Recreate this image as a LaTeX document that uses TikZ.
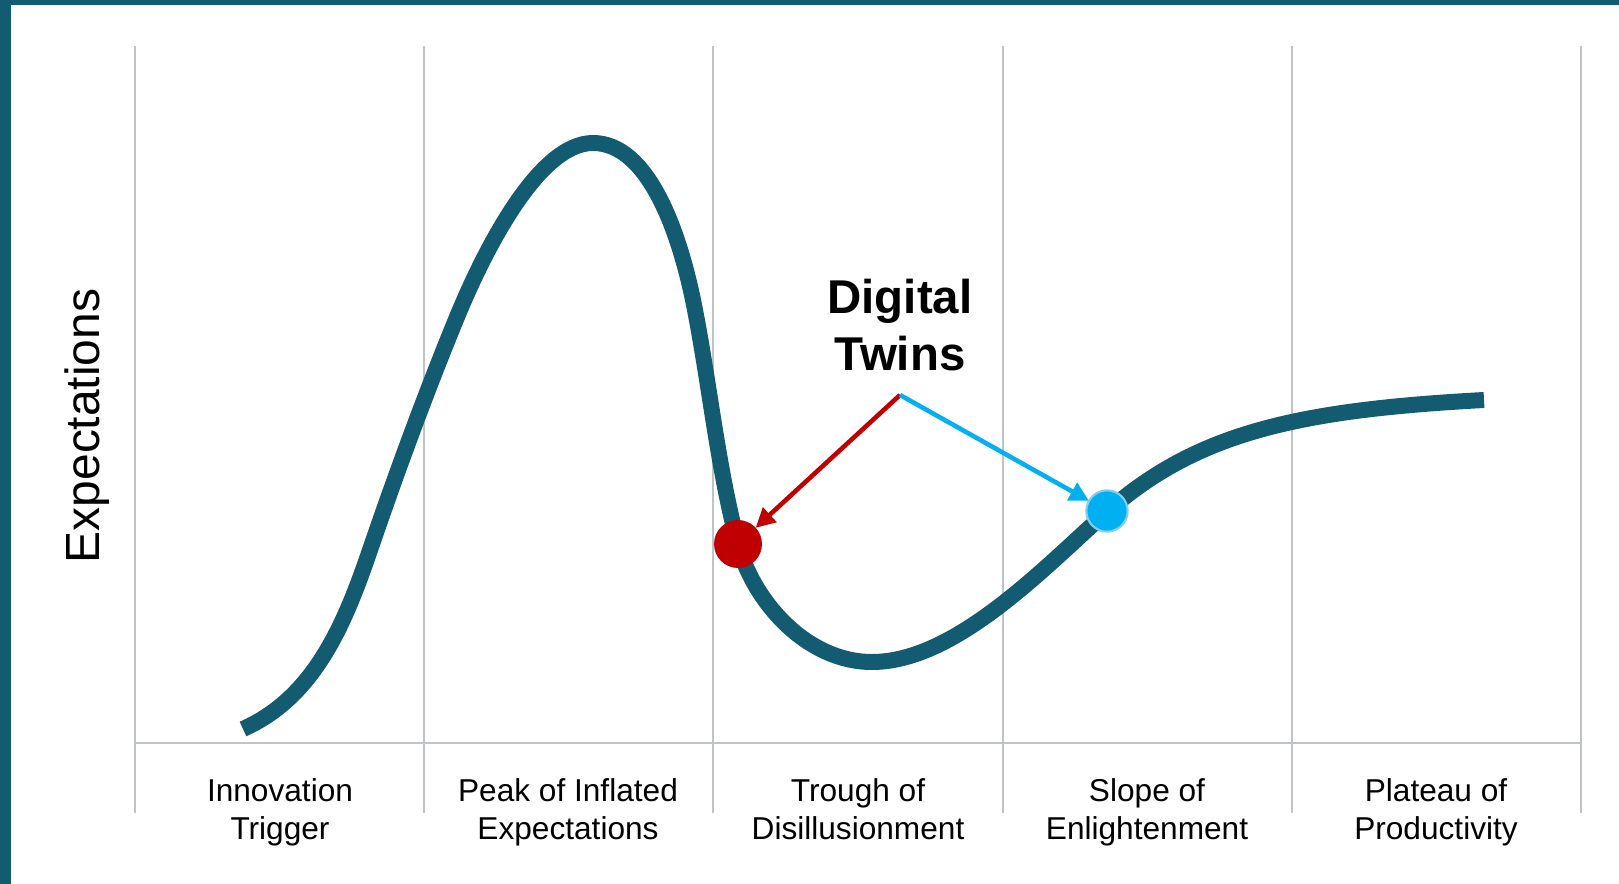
\documentclass[tikz,border=0pt]{standalone}
\usepackage{fontspec}
\setmainfont{Liberation Sans}
\usetikzlibrary{shapes.geometric, arrows.meta}

\definecolor{hypeteal}{RGB}{19,91,112}
\definecolor{gridgrey}{RGB}{192,196,198}
\definecolor{twinred}{RGB}{192,0,0}
\definecolor{twinblue}{RGB}{0,176,240}
\definecolor{twinrim}{RGB}{130,205,240}

\begin{document}
\begin{tikzpicture}[x=0.02cm, y=-0.02cm,
    gridline/.style={gridgrey, line width=1.5pt},
    phase/.style={align=center, font=\fontsize{18}{21.6}\selectfont, execute at end node=\strut},
    dot/.style={circle, inner sep=0pt, outer sep=0pt},
    pointer/.style={line width=2.6pt, -{Triangle[length=11pt,width=11pt]}}]

    \useasboundingbox (0,0) rectangle (1619,884);

    % Frame bars
    \fill[hypeteal] (0,0) rectangle (1619,5);
    \fill[hypeteal] (0,0) rectangle (11,884);

    % Grid and baseline
    \foreach \x in {135,424,713,1003,1292,1581}
        \draw[gridline] (\x,46) -- (\x,813);
    \draw[gridline] (135,743) -- (1581,743);

    % Phase labels
    \node[phase] (trigger) at (280,815) {Innovation\\Trigger};
    \node[phase] (peak) at (568,815) {Peak of Inflated\\Expectations};
    \node[phase] (trough) at (858,815) {Trough of\\Disillusionment};
    \node[phase] (slope) at (1147,815) {Slope of\\Enlightenment};
    \node[phase] (plateau) at (1436,815) {Plateau of\\Productivity};

    % Axis title
    \node[rotate=90, font=\fontsize{27.3}{32}\selectfont] (expect) at (87,426) {Expectations};

    % Hype curve
    \draw[hypeteal, line width=9.1pt] (243,729)
        .. controls (315,697) and (345,623) .. (370,550)
        .. controls (396,474) and (426.5,391) .. (457,317)
        .. controls (483.7,252.3) and (538,143) .. (593,143)
        .. controls (648,143) and (680,231.6) .. (695,310)
        .. controls (709.8,386.4) and (718,468.7) .. (738,544)
        .. controls (753.4,602) and (807,662) .. (872,662)
        .. controls (957,662) and (1047.8,563.6) .. (1108,511)
        .. controls (1198,432) and (1300,410) .. (1484,400);

    % Digital twins marker
    \node[align=center, font=\fontsize{27}{32.4}\selectfont\bfseries, inner sep=0pt] (twins) at (900,325) {Digital\\Twins};
    \coordinate (root) at (900,395);
    \node[dot, fill=twinred, minimum size=27.3pt] (reddot) at (738,544) {};
    \node[dot, fill=twinblue, draw=twinrim, line width=1.2pt, minimum size=23.5pt] (bluedot) at (1107,511) {};
    \draw[pointer, twinred] (root) -- (reddot);
    \draw[pointer, twinblue] (root) -- (bluedot);
\end{tikzpicture}
\end{document}
